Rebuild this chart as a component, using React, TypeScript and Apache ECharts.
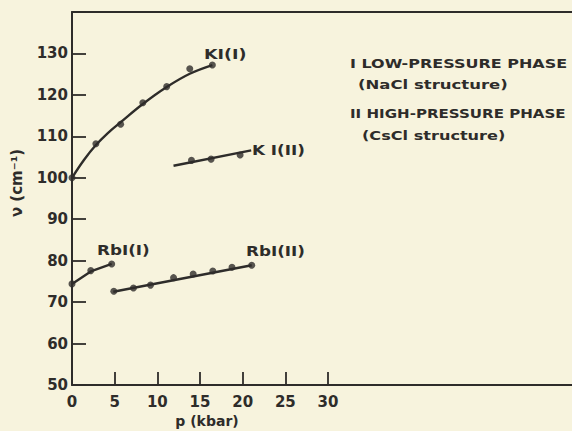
import React, { useEffect, useRef } from "react";
import * as echarts from "echarts";

// KI phase I (NaCl structure): measured points and drawn curve
const kiIPoints: number[][] = [[0, 100], [2.8, 108.2], [5.7, 112.9], [8.3, 118.1], [11.1, 122.0], [13.8, 126.3], [16.45, 127.2]];
const kiIFit: number[][] = [[0, 100], [1.4, 104.3], [2.8, 107.9], [4.2, 110.8], [5.7, 113.4], [8.3, 117.8], [11.1, 121.9], [13.8, 125.1], [16.45, 127.2]];
// KI phase II (CsCl structure)
const kiIIPoints: number[][] = [[14.0, 104.2], [16.3, 104.5], [19.7, 105.5]];
const kiIIFit: number[][] = [[11.9, 102.9], [21.0, 106.6]];
// RbI phase I
const rbIPoints: number[][] = [[0, 74.4], [2.2, 77.6], [4.65, 79.2]];
const rbIFit: number[][] = [[0, 74.4], [2.2, 77.4], [4.65, 79.2]];
// RbI phase II
const rbIIPoints: number[][] = [[4.9, 72.6], [7.2, 73.4], [9.2, 74.1], [11.9, 75.9], [14.2, 76.8], [16.5, 77.5], [18.75, 78.4], [21.06, 78.9]];
const rbIIFit: number[][] = [[4.84, 72.5], [21.06, 78.9]];

const xTicks = [0, 5, 10, 15, 20, 25, 30];
const yTicks = [50, 60, 70, 80, 90, 100, 110, 120, 130];

const INK = "#2e2c2a";
const BG = "#f7f3dd";
const FONT = "DejaVu Sans";

export default function App() {
  const ref = useRef<HTMLDivElement>(null);
  useEffect(() => {
    if (!ref.current) return;
    const chart = echarts.init(ref.current, undefined, { renderer: "svg" });
    const lineSeries = (name: string, data: number[][], smooth: boolean) => ({
      name,
      type: "line",
      xAxisIndex: 0,
      yAxisIndex: 0,
      data,
      smooth: smooth ? 0.4 : false,
      showSymbol: false,
      symbol: "none",
      lineStyle: { color: INK, width: 2.4 },
      z: 3,
    });
    const pointSeries = (name: string, data: number[][]) => ({
      name,
      type: "scatter",
      xAxisIndex: 0,
      yAxisIndex: 0,
      data,
      symbol: "circle",
      symbolSize: 7,
      itemStyle: { color: INK },
      z: 4,
    });
    const txt = (text: string, x: number, y: number, size: number, sx: number) => ({
      type: "text",
      x,
      y,
      scaleX: sx,
      style: { text, fill: INK, font: `bold ${size}px "${FONT}"`, textAlign: "left", textVerticalAlign: "middle" },
    });
    chart.setOption({
      animation: false,
      backgroundColor: BG,
      grid: [
        { left: 72, top: 12, width: 256, height: 373, outerBoundsMode: "none", containLabel: false },
        { left: 72, top: 12, right: -20, height: 373, outerBoundsMode: "none", containLabel: false },
      ],
      xAxis: [
        {
          gridIndex: 0,
          type: "value",
          min: 0,
          max: 30,
          interval: 5,
          axisLine: { show: false },
          axisTick: { show: true, inside: true, length: 13, lineStyle: { color: INK, width: 1.8 } },
          axisLabel: {
            color: INK,
            fontFamily: FONT,
            fontSize: 15,
            fontWeight: "bold",
            margin: 9,
            customValues: xTicks,
          },
          splitLine: { show: false },
          name: "p (kbar)",
          nameLocation: "middle",
          nameGap: 29,
          nameTextStyle: { color: INK, fontFamily: FONT, fontSize: 14, fontWeight: "bold", padding: [0, 0, 0, 14] },
        },
        {
          gridIndex: 1,
          type: "value",
          position: "bottom",
          min: 0,
          max: 1,
          axisLine: { show: true, onZero: false, lineStyle: { color: INK, width: 2 } },
          axisTick: { show: false },
          axisLabel: { show: false },
          splitLine: { show: false },
        },
        {
          gridIndex: 1,
          type: "value",
          position: "top",
          min: 0,
          max: 1,
          axisLine: { show: true, onZero: false, lineStyle: { color: INK, width: 2 } },
          axisTick: { show: false },
          axisLabel: { show: false },
          splitLine: { show: false },
        },
      ],
      yAxis: [
        {
          gridIndex: 0,
          type: "value",
          min: 50,
          max: 140,
          interval: 10,
          axisLine: { show: true, lineStyle: { color: INK, width: 2 } },
          axisTick: { show: true, inside: true, length: 14, lineStyle: { color: INK, width: 1.8 } },
          axisLabel: {
            color: INK,
            fontFamily: FONT,
            fontSize: 15,
            fontWeight: "bold",
            margin: 4,
            formatter: (v: number) => (yTicks.indexOf(v) >= 0 ? String(v) : ""),
          },
          splitLine: { show: false },
        },
        { gridIndex: 1, type: "value", show: false, min: 0, max: 1 },
      ],
      graphic: [
        {
          type: "text",
          x: 17,
          y: 183,
          rotation: Math.PI / 2,
          style: {
            text: "ν (cm⁻¹)",
            fill: INK,
            font: `bold 15px "${FONT}"`,
            textAlign: "center",
            textVerticalAlign: "middle",
          },
        },
        txt("KI(I)", 204, 54, 14, 1.25),
        txt("K I(II)", 252, 150, 14, 1.2),
        txt("RbI(I)", 97, 250, 14, 1.2),
        txt("RbI(II)", 246, 251, 14, 1.2),
        txt("I LOW-PRESSURE PHASE", 350, 63, 13, 1.23),
        txt("(NaCl structure)", 358, 85, 13, 1.27),
        txt("II HIGH-PRESSURE PHASE", 350, 113, 13, 1.16),
        txt("(CsCl structure)", 362, 135, 13, 1.24),
      ],
      series: [
        lineSeries("KI(I) curve", kiIFit, true),
        pointSeries("KI(I)", kiIPoints),
        lineSeries("KI(II) line", kiIIFit, false),
        pointSeries("KI(II)", kiIIPoints),
        lineSeries("RbI(I) curve", rbIFit, false),
        pointSeries("RbI(I)", rbIPoints),
        lineSeries("RbI(II) line", rbIIFit, false),
        pointSeries("RbI(II)", rbIIPoints),
      ],
    });
    return () => chart.dispose();
  }, []);
  return (
    <div
      ref={ref}
      style={{ position: "fixed", left: 0, top: 0, width: 572, height: 431 }}
    />
  );
}
